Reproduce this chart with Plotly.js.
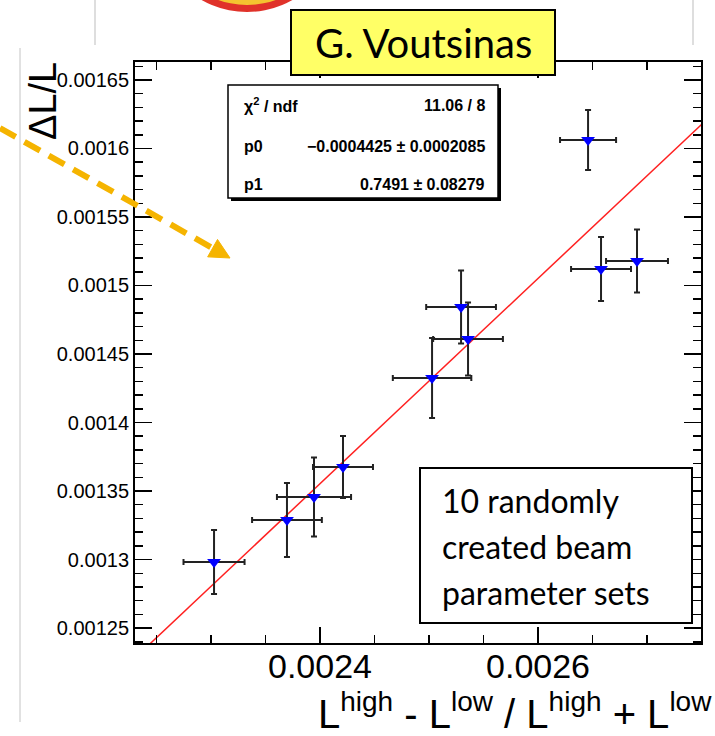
<!DOCTYPE html>
<html>
<head>
<meta charset="utf-8">
<script src="https://cdn.plot.ly/plotly-3.0.1.min.js"></script>
<style>
  html, body { margin: 0; padding: 0; background: #fff; }
  #chart { width: 715px; height: 736px; }
</style>
</head>
<body>
<div id="chart"></div>
<script>
// Measured asymmetry vs. relative luminosity difference, 10 beam parameter sets
const asymX   = [0.0023028, 0.0023697, 0.0023945, 0.0024211, 0.0025028, 0.0025294, 0.0025358, 0.0026459, 0.0026578, 0.0026908];
const asymXErr = [0.0000280, 0.0000320, 0.0000340, 0.0000275, 0.0000360, 0.0000320, 0.0000320, 0.0000257, 0.0000275, 0.0000284];
const dLoverL = [0.0012982, 0.0013288, 0.0013456, 0.0013675, 0.0014325, 0.0014843, 0.0014609, 0.0016062, 0.0015120, 0.0015179];
const dLoverLErr = [0.0000234, 0.0000270, 0.0000288, 0.0000226, 0.0000292, 0.0000266, 0.0000266, 0.0000219, 0.0000234, 0.0000230];

// Linear fit result  y = p0 + p1 * x
const chi2 = 11.06, ndf = 8;
const p0 = -0.0004425, p0Err = 0.0002085;
const p1 = 0.7491, p1Err = 0.08279;

const noteLines = ["10 randomly", "created beam", "parameter sets"];
const authorName = "G. Voutsinas";

const xRange = [0.0022303, 0.0027495];
const yRange = [0.0012391, 0.0016631];

// plot frame in page pixels, used to place the overlay boxes
const FL = 135, FR = 701, FT = 62, FB = 643;
const fx = x => (x - FL) / (FR - FL);
const fy = y => (FB - y) / (FB - FT);

const fitX = [xRange[0] - 0.00001, xRange[1] + 0.00001];
const fitY = fitX.map(x => p0 + p1 * x);

const traces = [
  {
    x: fitX, y: fitY, type: 'scatter', mode: 'lines',
    line: { color: '#ff2020', width: 1.5 }, hoverinfo: 'skip', showlegend: false
  },
  {
    x: asymX, y: dLoverL, type: 'scatter', mode: 'markers',
    marker: { symbol: 'triangle-down', size: 12, color: '#0000ff' },
    error_x: { type: 'data', array: asymXErr, visible: true, color: '#222', thickness: 2, width: 3 },
    error_y: { type: 'data', array: dLoverLErr, visible: true, color: '#222', thickness: 2, width: 3 },
    showlegend: false
  }
];

const FONT = 'Liberation Sans, Arial, sans-serif';
const NOTE_FONT = 'Lato, Open Sans, sans-serif';

// dashed pointer arrow coming from the left edge
const tail = [0, 128], tip = [230, 258];
const len = Math.hypot(tip[0] - tail[0], tip[1] - tail[1]);
const ux = (tip[0] - tail[0]) / len, uy = (tip[1] - tail[1]) / len;
const headL = 20, headW = 10;
const bx = tip[0] - ux * headL, by = tip[1] - uy * headL;
const hp1 = [bx - uy * headW, by + ux * headW];
const hp2 = [bx + uy * headW, by - ux * headW];
const headPath = `M ${fx(tip[0])},${fy(tip[1])} L ${fx(hp1[0])},${fy(hp1[1])} L ${fx(hp2[0])},${fy(hp2[1])} Z`;

const shapes = [
  // slide decorations above the plot
  { type: 'line', xref: 'paper', yref: 'paper', x0: fx(95), x1: fx(95), y0: fy(0), y1: fy(45), line: { color: '#bdbdbd', width: 1 } },
  { type: 'line', xref: 'paper', yref: 'paper', x0: fx(693), x1: fx(693), y0: fy(0), y1: fy(45), line: { color: '#bdbdbd', width: 1 } },
  { type: 'line', xref: 'paper', yref: 'paper', x0: fx(20), x1: fx(20), y0: fy(48), y1: fy(722), line: { color: '#c4c4c4', width: 1 } },
  { type: 'circle', xref: 'paper', yref: 'paper', x0: fx(247 - 92), x1: fx(247 + 92), y0: fy(-80 + 92), y1: fy(-80 - 92), fillcolor: '#e0322a', line: { width: 0 } },
  { type: 'circle', xref: 'paper', yref: 'paper', x0: fx(247 - 85), x1: fx(247 + 85), y0: fy(-80 + 85), y1: fy(-80 - 85), fillcolor: '#f4c430', line: { width: 0 } },

  // author tag
  { type: 'rect', xref: 'paper', yref: 'paper', layer: 'above', x0: fx(291), x1: fx(555), y0: fy(75), y1: fy(10), fillcolor: '#ffff66', line: { color: '#000', width: 2 } },

  // fit statistics box with shadow
  { type: 'rect', xref: 'paper', yref: 'paper', layer: 'above', x0: fx(231), x1: fx(501), y0: fy(201), y1: fy(88), fillcolor: '#000', line: { width: 0 } },
  { type: 'rect', xref: 'paper', yref: 'paper', layer: 'above', x0: fx(228), x1: fx(498), y0: fy(198), y1: fy(85), fillcolor: '#fff', line: { color: '#000', width: 1.5 } },

  // note box
  { type: 'rect', xref: 'paper', yref: 'paper', layer: 'above', x0: fx(420), x1: fx(692), y0: fy(623), y1: fy(468), fillcolor: '#fff', line: { color: '#000', width: 2 } },

  // pointer arrow
  { type: 'line', xref: 'paper', yref: 'paper', layer: 'above', x0: fx(tail[0]), y0: fy(tail[1]), x1: fx(bx + ux * 2), y1: fy(by + uy * 2), line: { color: '#f5b400', width: 6, dash: '18px,10px' } },
  { type: 'path', xref: 'paper', yref: 'paper', layer: 'above', path: headPath, fillcolor: '#f5b400', line: { color: '#f5b400', width: 1 } }
];

const ann = (x, y, text, opts) => Object.assign({ xref: 'paper', yref: 'paper', x: fx(x), y: fy(y), text, showarrow: false }, opts);
const statFont = { family: FONT, size: 16, color: '#000', weight: 'bold' };

const annotations = [
  ann(423, 43, authorName, { font: { family: NOTE_FONT, size: 40, color: '#000' }, xanchor: 'center', yanchor: 'middle' }),

  ann(242, 105, 'χ<sup>2</sup> / ndf', { font: statFont, xanchor: 'left', yanchor: 'middle' }),
  ann(487, 105, `${chi2.toFixed(2)} / ${ndf}`, { font: statFont, xanchor: 'right', yanchor: 'middle' }),
  ann(242, 146, 'p0', { font: statFont, xanchor: 'left', yanchor: 'middle' }),
  ann(487, 146, `\u2212${Math.abs(p0).toFixed(7)} \u00b1 ${p0Err.toFixed(7)}`, { font: statFont, xanchor: 'right', yanchor: 'middle' }),
  ann(242, 184, 'p1', { font: statFont, xanchor: 'left', yanchor: 'middle' }),
  ann(487, 184, `${p1.toFixed(4)} \u00b1 ${p1Err.toFixed(5)}`, { font: statFont, xanchor: 'right', yanchor: 'middle' }),

  ...noteLines.map((t, i) => ann(440, 500 + i * 46, t, { font: { family: NOTE_FONT, size: 32, color: '#000' }, xanchor: 'left', yanchor: 'middle' })),

  // axis titles
  ann(43, 101, '\u0394L/L', { font: { family: FONT, size: 38, color: '#000' }, textangle: -90, xanchor: 'center', yanchor: 'middle' }),
  ann(714, 711, 'L<sup>high</sup> - L<sup>low</sup> / L<sup>high</sup> + L<sup>low</sup>', { font: { family: FONT, size: 40, color: '#000' }, xanchor: 'right', yanchor: 'middle' })
];

const layout = {
  width: 715, height: 736,
  margin: { l: FL, r: 715 - FR, t: FT, b: 736 - FB, pad: 0 },
  paper_bgcolor: '#fff', plot_bgcolor: '#fff',
  showlegend: false,
  xaxis: {
    range: xRange, showgrid: false, zeroline: false,
    showline: true, linecolor: '#000', linewidth: 2, mirror: 'ticks',
    ticks: 'inside', ticklen: 16, tickwidth: 1.5, tickcolor: '#000',
    tick0: 0.0024, dtick: 0.0002, tickformat: '.4~f', exponentformat: 'none',
    ticklabelstandoff: -8,
    tickfont: { family: FONT, size: 34, color: '#000' },
    minor: { ticks: 'inside', ticklen: 8, tickwidth: 1.5, tickcolor: '#000', dtick: 0.00005, tick0: 0.0024, showgrid: false }
  },
  yaxis: {
    range: yRange, showgrid: false, zeroline: false,
    showline: true, linecolor: '#000', linewidth: 2, mirror: 'ticks',
    ticks: 'inside', ticklen: 17, tickwidth: 1.5, tickcolor: '#000',
    tick0: 0.00125, dtick: 0.00005, tickformat: '.5~f', exponentformat: 'none',
    tickfont: { family: FONT, size: 20, color: '#000' },
    minor: { ticks: 'inside', ticklen: 8, tickwidth: 1.5, tickcolor: '#000', dtick: 0.00001, tick0: 0.00125, showgrid: false }
  },
  shapes, annotations
};

Plotly.newPlot('chart', traces, layout, { displayModeBar: false, staticPlot: true });
</script>
</body>
</html>
